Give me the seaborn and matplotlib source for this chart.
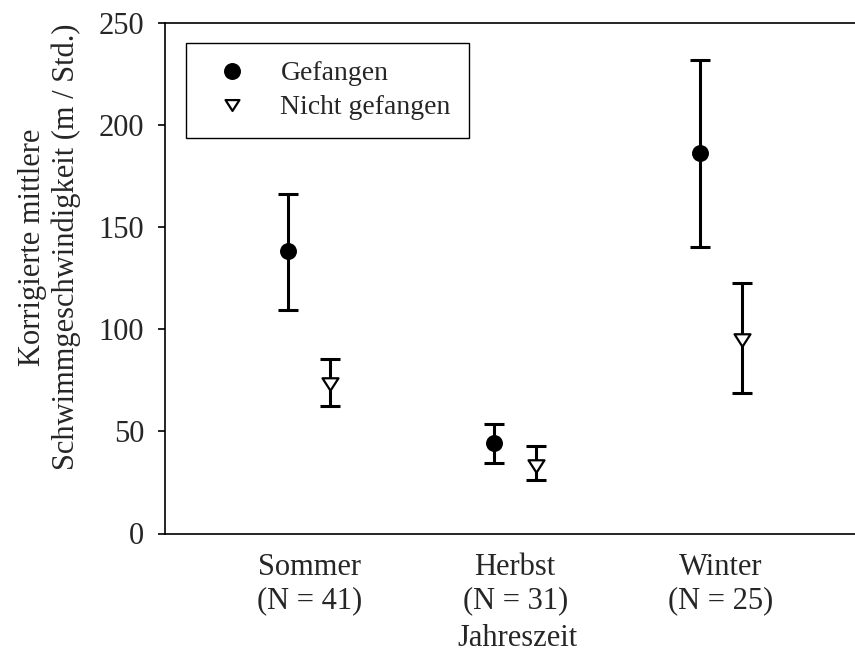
import matplotlib
matplotlib.use("Agg")
import numpy as np
import pandas as pd
import seaborn as sns
import matplotlib.pyplot as plt
from matplotlib.path import Path
from matplotlib.lines import Line2D

# ---- data ----
seasons = ["Sommer", "Herbst", "Winter"]
n_counts = [41, 31, 25]
groups = ["Gefangen", "Nicht gefangen"]

caught_mean = [138.2, 44.4, 186.3]
caught_low = [109.2, 34.3, 140.0]
caught_high = [166.0, 53.7, 231.6]

notcaught_mean = [72.9, 33.1, 94.7]
notcaught_low = [62.5, 26.2, 68.6]
notcaught_high = [85.2, 42.8, 122.4]

tick_labels = [f"{s}\n(N = {n})" for s, n in zip(seasons, n_counts)]

# ---- style ----
sns.set_theme(style="white")
plt.rcParams["font.family"] = ["Liberation Serif", "DejaVu Serif"]

fig = plt.figure(figsize=(8.55, 6.56), dpi=100)
ax = fig.add_axes([165 / 855, (656 - 533.5) / 656, (869 - 165) / 855, 511 / 656])

offset = 0.102
idx = np.arange(len(seasons))

rows = []
for i, s in enumerate(seasons):
    rows.append(dict(season=s, group=groups[0], x=idx[i] - offset,
                     mean=caught_mean[i], low=caught_low[i], high=caught_high[i]))
    rows.append(dict(season=s, group=groups[1], x=idx[i] + offset,
                     mean=notcaught_mean[i], low=notcaught_low[i], high=notcaught_high[i]))
df = pd.DataFrame(rows)

# error bars
ax.errorbar(df["x"], df["mean"],
            yerr=[df["mean"] - df["low"], df["high"] - df["mean"]],
            fmt="none", ecolor="black", elinewidth=2.2, capsize=7, capthick=2.2,
            zorder=2)

tri = Path([(-1, 0.78), (1, 0.78), (0, -0.78), (-1, 0.78)],
           [Path.MOVETO, Path.LINETO, Path.LINETO, Path.CLOSEPOLY])

d0 = df[df["group"] == groups[0]]
d1 = df[df["group"] == groups[1]]
sns.scatterplot(data=d0, x="x", y="mean", marker="o", s=149, color="black",
                edgecolor="black", linewidth=0, ax=ax, zorder=3, legend=False)
sns.scatterplot(data=d1, x="x", y="mean", marker=tri, s=132, facecolor="white",
                edgecolor="black", linewidth=1.6, ax=ax, zorder=3, legend=False)

# axes
ax.set_xlim(-0.702, 2.72)
ax.set_ylim(0, 250)
ax.set_xticks(idx)
ax.set_xticklabels(tick_labels, fontsize=22)
ax.set_yticks([0, 50, 100, 150, 200, 250])
ax.tick_params(axis="y", which="both", direction="out", length=5, width=1.2,
               color="black", pad=10, labelsize=22, left=True)
ax.tick_params(axis="x", length=0, pad=14, labelsize=22)
for side in ["left", "top", "bottom", "right"]:
    ax.spines[side].set_color("black")
    ax.spines[side].set_linewidth(1.2)

ax.set_xlabel("Jahreszeit", fontsize=22, labelpad=6)
ax.set_ylabel("Korrigierte mittlere\nSchwimmgeschwindigkeit (m / Std.)",
              fontsize=22)
ax.yaxis.set_label_coords(-0.119, 0.561)
ax.grid(False)

handles = [
    Line2D([], [], marker="o", linestyle="none", markersize=12.2,
           markerfacecolor="black", markeredgecolor="black", markeredgewidth=0),
    Line2D([], [], marker=tri, linestyle="none", markersize=10,
           markerfacecolor="white", markeredgecolor="black", markeredgewidth=1.6),
]
leg = ax.legend(handles, groups, loc="upper left",
                bbox_to_anchor=(186 / 855, (656 - 43) / 656),
                bbox_transform=fig.transFigure, borderaxespad=0,
                fontsize=20, frameon=True, fancybox=False, framealpha=1,
                edgecolor="black", borderpad=0.65, handlelength=2.0,
                handletextpad=0.75, labelspacing=0.3)
leg.get_frame().set_linewidth(1.0)

fig.savefig("out.png", dpi=100)
